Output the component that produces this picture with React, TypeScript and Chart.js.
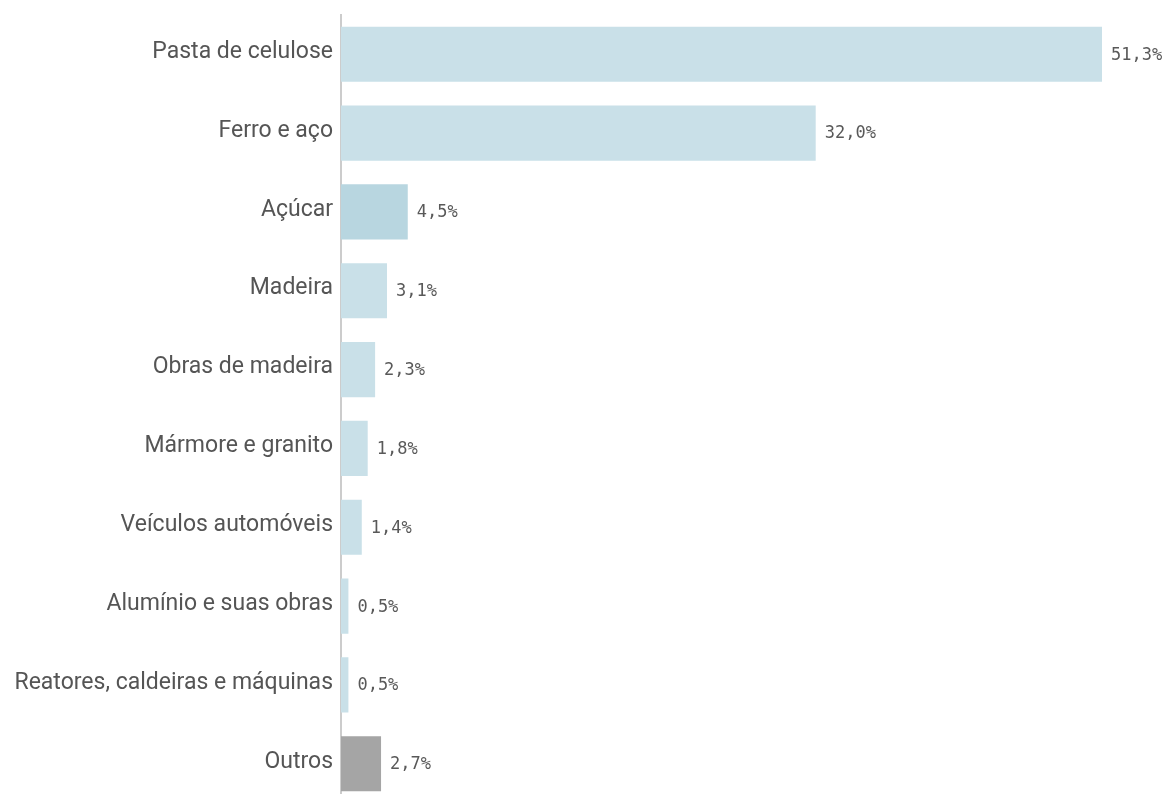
import React, { useEffect, useRef } from "react";
import { Chart, registerables } from "chart.js";

Chart.register(...registerables);

const categories = [
  "Pasta de celulose",
  "Ferro e aço",
  "Açúcar",
  "Madeira",
  "Obras de madeira",
  "Mármore e granito",
  "Veículos automóveis",
  "Alumínio e suas obras",
  "Reatores, caldeiras e máquinas",
  "Outros",
];
const values = [51.3, 32.0, 4.5, 3.1, 2.3, 1.8, 1.4, 0.5, 0.5, 2.7];
const valueLabels = ["51,3%", "32,0%", "4,5%", "3,1%", "2,3%", "1,8%", "1,4%", "0,5%", "0,5%", "2,7%"];
const barColors = [
  "#c9e0e8", "#c9e0e8", "#b8d6e0", "#c9e0e8", "#c9e0e8",
  "#c9e0e8", "#c9e0e8", "#c9e0e8", "#c9e0e8", "#a5a5a5",
];

const valueLabelPlugin = {
  id: "valueLabels",
  afterDatasetsDraw(chart: any) {
    const ctx = chart.ctx;
    const meta = chart.getDatasetMeta(0);
    ctx.save();
    ctx.font = "17px 'DejaVu Sans Mono', monospace";
    ctx.fillStyle = "#595959";
    ctx.textAlign = "left";
    ctx.textBaseline = "middle";
    meta.data.forEach((bar: any, i: number) => {
      ctx.fillText(valueLabels[i], bar.x + 9, bar.y + 1);
    });
    ctx.restore();
  },
};

export default function App() {
  const ref = useRef<HTMLCanvasElement>(null);
  useEffect(() => {
    if (!ref.current) return;
    const chart = new Chart(ref.current, {
      type: "bar",
      data: {
        labels: categories,
        datasets: [
          {
            data: values,
            backgroundColor: barColors,
            barPercentage: 0.7,
            categoryPercentage: 1,
          },
        ],
      },
      options: {
        indexAxis: "y",
        responsive: false,
        animation: false,
        layout: { padding: { top: 0, right: 62, bottom: 0, left: 0 } },
        plugins: { legend: { display: false }, tooltip: { enabled: false } },
        scales: {
          x: { display: false, min: 0, max: 51.3 },
          y: {
            grid: { display: false, drawTicks: false },
            border: { display: true, color: "#cccccc", width: 2 },
            afterFit(scale: any) {
              scale.width = 333;
            },
            ticks: {
              color: "#555555",
              padding: 8,
              labelOffset: -2,
              font: { family: "Roboto, 'Noto Sans', sans-serif", size: 23 },
            },
          },
        },
      },
      plugins: [valueLabelPlugin],
    });
    return () => chart.destroy();
  }, []);
  return (
    <div style={{ position: "relative", width: 1156, height: 786, overflow: "hidden" }}>
      <canvas
        ref={ref}
        width={1156}
        height={832}
        style={{ display: "block", position: "absolute", left: 0, top: -15 }}
      />
    </div>
  );
}
